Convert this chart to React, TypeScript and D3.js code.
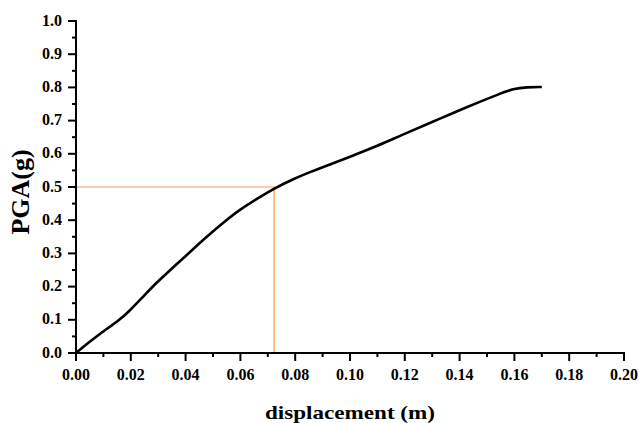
import React from "react";
import * as d3 from "d3";

const dispX = [0, 0.005, 0.01, 0.0154, 0.0197, 0.0245, 0.0294, 0.0345, 0.0398, 0.0447, 0.0495, 0.0538, 0.0599, 0.0672, 0.072, 0.0793, 0.0854, 0.093, 0.1, 0.11, 0.1182, 0.1304, 0.1426, 0.1547, 0.1596, 0.1645, 0.17];
const pgaY = [0, 0.034, 0.066, 0.096, 0.128, 0.17, 0.212, 0.251, 0.29, 0.328, 0.363, 0.393, 0.433, 0.47, 0.494, 0.524, 0.545, 0.569, 0.591, 0.624, 0.654, 0.697, 0.741, 0.781, 0.796, 0.801, 0.801];
const xTicks = [0, 0.02, 0.04, 0.06, 0.08, 0.1, 0.12, 0.14, 0.16, 0.18, 0.2];
const yTicks = [0, 0.1, 0.2, 0.3, 0.4, 0.5, 0.6, 0.7, 0.8, 0.9, 1.0];
const refPGA = 0.5;
const refDisp = 0.0723;

export default function App() {
  const W = 638, H = 423;
  const x = d3.scaleLinear().domain([0, 0.2]).range([76, 624]);
  const y = d3.scaleLinear().domain([0, 1]).range([353, 21]);
  const pts = dispX.map((d, i) => [d, pgaY[i]] as [number, number]);
  const line = d3.line<[number, number]>().x(d => x(d[0])).y(d => y(d[1])).curve(d3.curveBasis);
  const xMinor = d3.range(0, 20).map(i => 0.01 + i * 0.02).filter(v => v < 0.2);
  const yMinor = d3.range(0, 10).map(i => 0.05 + i * 0.1);
  const tf: React.CSSProperties = { fontFamily: "'Liberation Serif', 'Times New Roman', serif", fontWeight: 700 };
  return (
    <svg width={W} height={H} style={{ position: "absolute", left: 0, top: 0 }}>
      <rect width={W} height={H} fill="#fff" />
      <path d={`M${x(0)},${y(refPGA)}H${x(refDisp)}V${y(0)}`} fill="none" stroke="#f59a4a" strokeWidth={1.2} />
      <path d={line(pts) || ""} fill="none" stroke="#000" strokeWidth={2.6} strokeLinejoin="round" />
      <line x1={x(0)} x2={x(0.2) + 1} y1={y(0)} y2={y(0)} stroke="#000" strokeWidth={2} />
      <line x1={x(0)} x2={x(0)} y1={y(0) + 1} y2={y(1) - 1} stroke="#000" strokeWidth={2} />
      {xTicks.map(t => (
        <g key={"xt" + t}>
          <line x1={x(t)} x2={x(t)} y1={y(0)} y2={y(0) + 8} stroke="#000" strokeWidth={2} />
          <text x={x(t)} y={380} textAnchor="middle" style={{ ...tf, fontSize: 16 }}>{t.toFixed(2)}</text>
        </g>
      ))}
      {xMinor.map(t => (
        <line key={"xm" + t} x1={x(t)} x2={x(t)} y1={y(0)} y2={y(0) + 4} stroke="#000" strokeWidth={2} />
      ))}
      {yTicks.map(t => (
        <g key={"yt" + t}>
          <line x1={x(0)} x2={x(0) - 8} y1={y(t)} y2={y(t)} stroke="#000" strokeWidth={2} />
          <text x={62} y={y(t) + 4.5} textAnchor="end" style={{ ...tf, fontSize: 16 }}>{t.toFixed(1)}</text>
        </g>
      ))}
      {yMinor.map(t => (
        <line key={"ym" + t} x1={x(0)} x2={x(0) - 4} y1={y(t)} y2={y(t)} stroke="#000" strokeWidth={2} />
      ))}
      <text x={350} y={419} textAnchor="middle" textLength={170} lengthAdjust="spacingAndGlyphs" style={{ ...tf, fontSize: 19 }}>displacement (m)</text>
      <text transform={`translate(29,192) rotate(-90)`} textAnchor="middle" style={{ ...tf, fontSize: 26 }}>PGA(g)</text>
    </svg>
  );
}
